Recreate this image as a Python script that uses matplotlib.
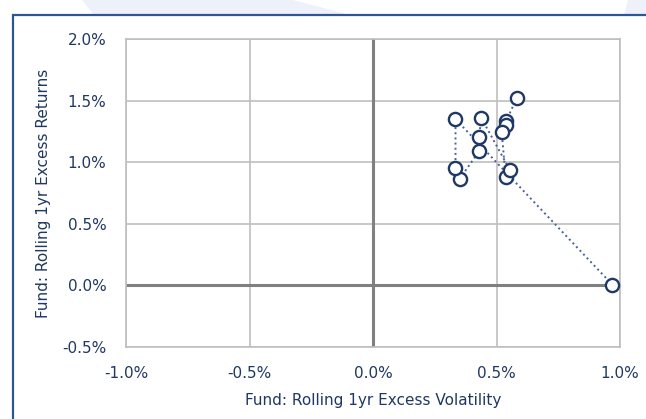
import matplotlib.pyplot as plt
from matplotlib.patches import Polygon, Rectangle
from matplotlib.ticker import FuncFormatter

# Rolling 1yr excess volatility / returns (in %), in chronological order
volatility = [0.583, 0.540, 0.538, 0.521, 0.537, 0.554, 0.439, 0.429, 0.429,
              0.351, 0.334, 0.334, 0.969]
returns = [1.525, 1.338, 1.298, 1.249, 0.879, 0.938, 1.357, 1.208, 1.087,
           0.866, 0.952, 1.350, 0.006]

x_ticks = [-1.0, -0.5, 0.0, 0.5, 1.0]
y_ticks = [-0.5, 0.0, 0.5, 1.0, 1.5, 2.0]

navy = '#1F3864'
text_col = '#203864'
plt.rcParams['font.family'] = ['DejaVu Sans']

fig = plt.figure(figsize=(6.46, 4.19), dpi=100)

# faint background shapes at the top
fig.patches.append(Polygon([[82/646, 1], [94/646, 1 - 15/419], [350/646, 1 - 15/419],
                            [293/646, 1]], closed=True, transform=fig.transFigure,
                           facecolor='#EEF1FA', edgecolor='none', zorder=0))
fig.patches.append(Polygon([[628/646, 1], [624/646, 1 - 15/419], [1, 1 - 15/419], [1, 1]],
                           closed=True, transform=fig.transFigure,
                           facecolor='#EEF1FA', edgecolor='none', zorder=0))
# frame
fig.patches.append(Rectangle((13/646, -0.1), 1.2, 1.1 - 15/419, transform=fig.transFigure,
                             facecolor='none', edgecolor='#2F5597', lw=1.6, zorder=1))

ax = fig.add_axes([126/646, 1 - 347/419, (620 - 126)/646, (347 - 39)/419])

ax.plot(volatility, returns, linestyle=':', color='#4A6196', lw=1.4, zorder=3)
ax.plot(volatility, returns, linestyle='none', marker='o', markersize=9.5,
        markerfacecolor='white', markeredgecolor=navy, markeredgewidth=1.7, zorder=4)

ax.axhline(0, color='#808080', lw=2.2, zorder=2)
ax.axvline(0, color='#808080', lw=2.2, zorder=2)

ax.set_xlim(-1.0, 1.0)
ax.set_ylim(-0.5, 2.0)
ax.set_xticks(x_ticks)
ax.set_yticks(y_ticks)
ax.xaxis.set_major_formatter(FuncFormatter(lambda v, p: f'{v:.1f}%'))
ax.yaxis.set_major_formatter(FuncFormatter(lambda v, p: f'{v:.1f}%'))
ax.grid(True, color='#BFBFBF', lw=1.2, zorder=1)
ax.set_axisbelow(True)
for s in ax.spines.values():
    s.set_color('#BFBFBF')
    s.set_linewidth(1.2)
ax.tick_params(axis='y', length=0, colors=text_col, labelsize=11, pad=14)
ax.tick_params(axis='x', length=0, colors=text_col, labelsize=11, pad=14)

ax.set_xlabel('Fund: Rolling 1yr Excess Volatility', color=text_col, fontsize=11, labelpad=8)
ax.set_ylabel('Fund: Rolling 1yr Excess Returns', color=text_col, fontsize=11, labelpad=8)

fig.savefig('out.png', dpi=100)
